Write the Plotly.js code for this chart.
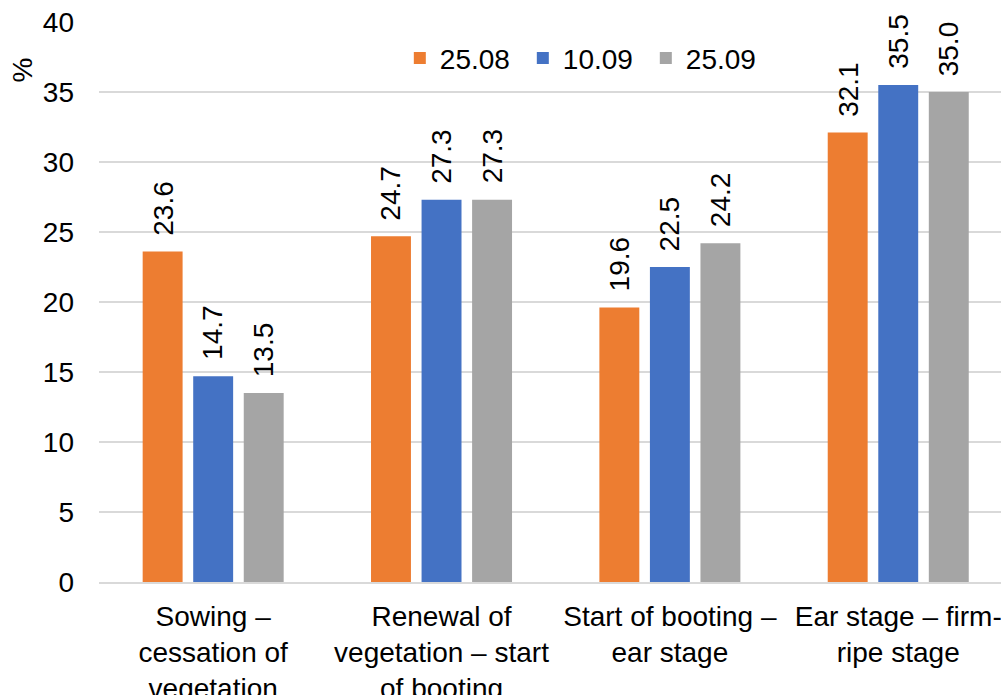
<!DOCTYPE html>
<html>
<head>
<meta charset="utf-8">
<script src="https://cdn.plot.ly/plotly-3.0.1.min.js"></script>
<style>html,body{margin:0;padding:0;background:#fff;}#chart{width:1001px;height:695px;}</style>
</head>
<body>
<div id="chart"></div>
<script>
var categories = ["Sowing –<br>cessation of<br>vegetation", "Renewal of<br>vegetation – start<br>of booting", "Start of booting –<br>ear stage", "Ear stage – firm-<br>ripe stage"];
var seriesNames = ["25.08", "10.09", "25.09"];
var s2508 = [23.6, 24.7, 19.6, 32.1];
var s1009 = [14.7, 27.3, 22.5, 35.5];
var s2509 = [13.5, 27.3, 24.2, 35.0];
var colors = ["#ED7D31", "#4472C4", "#A5A5A5"];
var yTicks = [0, 5, 10, 15, 20, 25, 30, 35, 40];

var FONT = "Liberation Sans, Arial, sans-serif";
var FS = 28;
var allSeries = [s2508, s1009, s2509];
var idx = categories.map(function(_, i){ return i; });

var traces = allSeries.map(function(vals, k){
  return {
    type: "bar", x: idx, y: vals, name: seriesNames[k],
    marker: {color: colors[k]}, hoverinfo: "none"
  };
});

var bargap = 0.336, nS = 3;
var slot = (1 - bargap) / nS;
var annotations = [];
allSeries.forEach(function(vals, k){
  vals.forEach(function(v, i){
    annotations.push({
      x: i + (k - 1) * slot, y: v, xref: "x", yref: "y",
      text: v.toFixed(1), showarrow: false, textangle: -90,
      yanchor: "bottom", xanchor: "center", yshift: 14,
      font: {family: FONT, size: FS, color: "#000"}
    });
  });
});
annotations.push({
  xref: "paper", yref: "paper", x: -0.085, y: 0.914, text: "%",
  showarrow: false, textangle: -90, xanchor: "center", yanchor: "middle",
  font: {family: FONT, size: FS, color: "#000"}
});

var layout = {
  width: 1001, height: 695,
  margin: {l: 99, r: 0, t: 22, b: 113},
  paper_bgcolor: "#fff", plot_bgcolor: "#fff",
  font: {family: FONT, size: FS, color: "#000"},
  barmode: "group", bargap: bargap, bargroupgap: 0.21,
  showlegend: true,
  legend: {
    orientation: "h", x: 0.3335, xanchor: "left", y: 0.935, yanchor: "middle",
    font: {family: FONT, size: FS, color: "#000"},
    entrywidth: 78, entrywidthmode: "pixels", itemwidth: 30,
    bgcolor: "rgba(0,0,0,0)"
  },
  xaxis: {
    type: "linear", range: [-0.5, 3.45],
    tickmode: "array", tickvals: idx, ticktext: categories,
    showgrid: false, zeroline: false, showline: true, linecolor: "#D9D9D9", linewidth: 2,
    ticks: "", ticklabelstandoff: 8, ticklabeloverflow: "allow",
    tickfont: {family: FONT, size: FS, color: "#000"}, fixedrange: true
  },
  yaxis: {
    range: [0, 40], tickmode: "array", tickvals: yTicks,
    showgrid: true, gridcolor: "#D9D9D9", gridwidth: 2, zeroline: false,
    showline: false, ticks: "", ticklabelstandoff: 24,
    tickfont: {family: FONT, size: FS, color: "#000"}, fixedrange: true
  },
  annotations: annotations
};

Plotly.newPlot("chart", traces, layout, {displayModeBar: false, staticPlot: true});
</script>
</body>
</html>
